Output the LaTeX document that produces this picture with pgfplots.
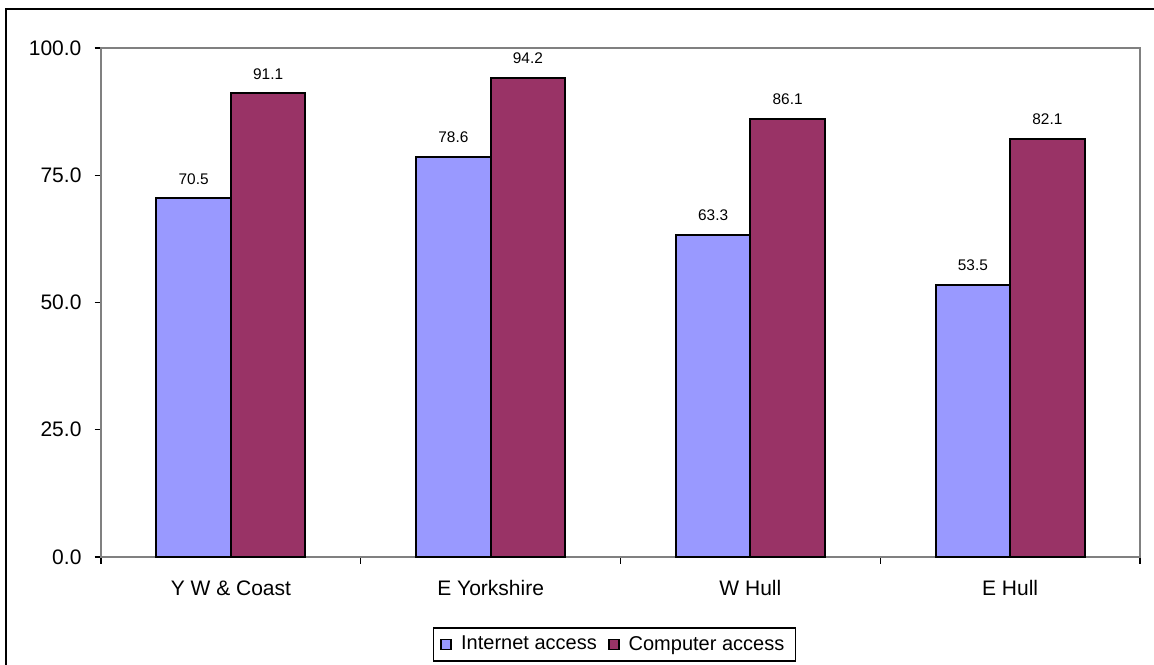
\documentclass[border=0pt]{standalone}
\usepackage{pgfplots}
\pgfplotsset{compat=1.18}
\usepackage{fontspec}
\setmainfont{Liberation Sans}
\definecolor{inet}{HTML}{9999FF}
\definecolor{comp}{HTML}{993366}
\definecolor{axgray}{HTML}{808080}
\begin{document}
\begin{tikzpicture}
\path[use as bounding box] (0pt,0pt) rectangle (577pt,-332pt);
\draw[line width=1pt, black] (3pt,-340pt) -- (3pt,-4.5pt) -- (590pt,-4.5pt);
\begin{axis}[
  at={(50.5pt,-278.5pt)}, anchor=south west,
  scale only axis, width=519.5pt, height=254.5pt,
  ybar=0pt, bar width=37.25pt,
  xmin=-0.5, xmax=3.5, ymin=0, ymax=100,
  axis line style={axgray, line width=1pt},
  xtick={-0.5,0.5,1.5,2.5,3.5},
  x tick label as interval,
  xticklabels={Y W \& Coast, E Yorkshire, W Hull, E Hull},
  xtick style={black, line width=0.6pt},
  ytick={0,25,50,75,100},
  ytick style={black, line width=0.6pt},
  major tick length=3.25pt,
  tick align=outside,
  yticklabel={\pgfmathprintnumber[fixed,fixed zerofill,precision=1]{\tick}},
  /pgf/number format/assume math mode=true,
  ticklabel style={font=\fontsize{10.5pt}{12pt}\selectfont},
  xticklabel style={yshift=-5pt},
  yticklabel style={xshift=-3pt},
  xtick pos=bottom, ytick pos=left,
  nodes near coords,
  nodes near coords style={font=\fontsize{7.7pt}{9pt}\selectfont, inner sep=0pt, anchor=south, yshift=6.5pt, /pgf/number format/.cd, fixed, fixed zerofill, precision=1},
  legend columns=2,
  legend style={at={(0.494,-0.172)}, anchor=center, draw=black, line width=0.6pt,
    font=\fontsize{10pt}{12pt}\selectfont, inner xsep=3.5pt, inner ysep=2pt,
    /tikz/every even column/.append style={column sep=3.5pt}},
  legend image code/.code={\draw[#1, line width=0.9pt] (0pt,-2.5pt) rectangle (5pt,2.5pt); \path (7.5pt,0pt);},
  clip=false,
]
\addplot[fill=inet, draw=black, line width=1pt] coordinates {(0,70.5) (1,78.6) (2,63.3) (3,53.5)};
\addplot[fill=comp, draw=black, line width=1pt] coordinates {(0,91.1) (1,94.2) (2,86.1) (3,82.1)};
\legend{Internet access, Computer access}
\end{axis}
\end{tikzpicture}
\end{document}
